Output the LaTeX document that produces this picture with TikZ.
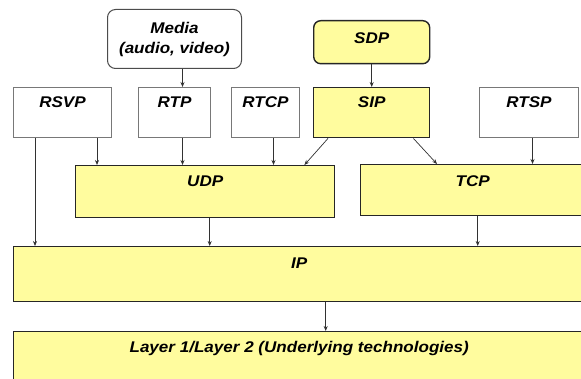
\documentclass[tikz,border=0pt]{standalone}
\usepackage{fontspec}
\setmainfont{Liberation Sans}[FakeStretch=1.1]
\usetikzlibrary{arrows.meta}

\definecolor{protoyellow}{RGB}{255,252,158}
\definecolor{edgegray}{RGB}{120,120,120}
\definecolor{linkgray}{RGB}{50,50,50}

\tikzset{
  lbl/.style={font=\fontsize{15.5}{20}\selectfont\bfseries\itshape, text=black},
  plainbox/.style={lbl, draw=edgegray, line width=1pt, fill=white,
    anchor=north west, inner sep=0pt, align=center},
  yellowbox/.style={lbl, draw=black!85, line width=1.4pt, fill=protoyellow,
    anchor=north west, inner sep=0pt, align=center},
  arr/.style={draw=linkgray, line width=0.7pt,
    -{Stealth[length=5pt,width=4pt]}}
}

\begin{document}
\begin{tikzpicture}[x=1pt, y=-1pt]
  \useasboundingbox (0,0) rectangle (581,379);
  \clip (0,0) rectangle (581,379);

  % application-level protocols
  \node[plainbox, rounded corners=8pt, draw=black!70, minimum width=134pt,
        minimum height=59pt] (media) at (107,9) {Media\\(audio, video)};
  \node[yellowbox, rounded corners=7pt, minimum width=116pt,
        text height=23pt, text depth=20pt] (sdp) at (313,20) {SDP};

  \node[plainbox, minimum width=98pt, text height=20pt, text depth=30pt]
       (rsvp) at (13,87) {RSVP};
  \node[plainbox, minimum width=72pt, text height=20pt, text depth=30pt]
       (rtp) at (138,87) {RTP};
  \node[plainbox, minimum width=68pt, text height=20pt, text depth=30pt]
       (rtcp) at (231,87) {RTCP};
  \node[yellowbox, minimum width=116pt, text height=20pt, text depth=30pt]
       (sip) at (313,87) {SIP};
  \node[plainbox, minimum width=99pt, text height=20pt, text depth=30pt]
       (rtsp) at (479,87) {RTSP};

  % transport layer
  \node[yellowbox, minimum width=259pt, text height=21pt, text depth=31pt]
       (udp) at (75,165) {UDP};
  \node[yellowbox, minimum width=224pt, text height=22pt, text depth=29pt]
       (tcp) at (360,164) {TCP};

  % network and lower layers
  \node[yellowbox, minimum width=571pt, text height=22pt, text depth=33pt]
       (ip) at (13,246) {IP};
  \node[yellowbox, minimum width=571pt, text height=21pt, text depth=49pt]
       (layer) at (13,331) {Layer 1/Layer 2 (Underlying technologies)};

  % connectors
  \draw[arr] ([xshift=8pt]media.south) -- ([xshift=8pt]rtp.north);
  \draw[arr] (sdp.south) -- (sip.north);

  \draw[arr] ([xshift=-15pt]rsvp.south east) -- ([xshift=-15pt]rsvp.south east |- udp.north);
  \draw[arr] ([xshift=22pt]rsvp.south west) -- ([xshift=22pt]rsvp.south west |- ip.north);
  \draw[arr] ([xshift=8pt]rtp.south) -- ([xshift=8pt]rtp.south |- udp.north);
  \draw[arr] ([xshift=8pt]rtcp.south) -- ([xshift=8pt]rtcp.south |- udp.north);
  \draw[arr] ([xshift=15pt]sip.south west) -- ([xshift=-31pt]udp.north east);
  \draw[arr] ([xshift=-17pt]sip.south east) -- ([xshift=77pt]tcp.north west);
  \draw[arr] ([xshift=3.5pt]rtsp.south) -- ([xshift=3.5pt]rtsp.south |- tcp.north);

  \draw[arr] ([xshift=4.5pt]udp.south) -- ([xshift=4.5pt]udp.south |- ip.north);
  \draw[arr] ([xshift=5pt]tcp.south) -- ([xshift=5pt]tcp.south |- ip.north);
  \draw[arr] ([xshift=26.5pt]ip.south) -- ([xshift=26.5pt]ip.south |- layer.north);
\end{tikzpicture}
\end{document}
